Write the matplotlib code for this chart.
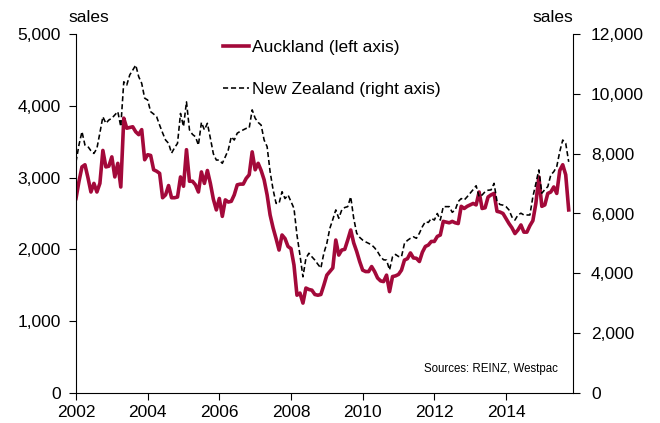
import matplotlib
matplotlib.use("Agg")
import matplotlib.pyplot as plt
from matplotlib.ticker import FuncFormatter, MultipleLocator
import numpy as np

plt.rcParams['font.family'] = ['Liberation Sans', 'DejaVu Sans']

start_year = 2002
auckland = [
    2710, 2950, 3150, 3180, 3000, 2800, 2920, 2800, 2920, 3380, 3150, 3160,
    3290, 3010, 3200, 2870, 3830, 3690, 3700, 3710, 3640, 3600, 3670, 3250,
    3320, 3310, 3110, 3090, 3060, 2720, 2760, 2890, 2720, 2720, 2730, 3010,
    2880, 3390, 2950, 2950, 2900, 2800, 3080, 2920, 3100, 2920, 2700, 2550,
    2710, 2460, 2690, 2660, 2670, 2760, 2900, 2910, 2910, 2990, 3040, 3360,
    3110, 3200, 3100, 2970, 2760, 2480, 2300, 2150, 1990, 2200, 2150, 2040,
    2010, 1780, 1360, 1390, 1250, 1460, 1440, 1430, 1370, 1360, 1370, 1500,
    1640, 1690, 1740, 2130, 1920, 1990, 2000, 2130, 2270, 2090, 1970, 1830,
    1710, 1690, 1690, 1760, 1690, 1600, 1560, 1550, 1640, 1410, 1620, 1630,
    1650, 1710, 1850, 1870, 1950, 1880, 1875, 1830, 1960, 2040, 2060, 2110,
    2110, 2180, 2200, 2390, 2380, 2370, 2390, 2370, 2360, 2600, 2570, 2600,
    2620, 2640, 2620, 2800, 2570, 2580, 2730, 2760, 2780, 2530, 2520, 2500,
    2430, 2360, 2300, 2220, 2270, 2340, 2240, 2240, 2330, 2400, 2640, 3010,
    2600, 2620, 2780, 2800, 2870, 2780, 3100, 3180, 3040, 2550,
]
new_zealand = [
    7730, 8300, 8740, 8290, 8240, 8100, 8010, 8180, 8700, 9240, 9020, 9130,
    9190, 9300, 9410, 8910, 10410, 10300, 10640, 10800, 10970, 10580, 10360, 9860,
    9800, 9410, 9330, 9240, 8960, 8700, 8460, 8350, 8020, 8200, 8350, 9350,
    8910, 9740, 8800, 8650, 8570, 8290, 9050, 8800, 9020, 8520, 8000, 7790,
    7790, 7680, 7900, 8130, 8570, 8460, 8690, 8750, 8800, 8850, 8860, 9470,
    9190, 9050, 8960, 8460, 8240, 7400, 6800, 6340, 6340, 6730, 6500, 6620,
    6400, 6170, 5280, 4610, 3880, 4500, 4670, 4550, 4440, 4300, 4170, 4670,
    5000, 5500, 5800, 6120, 5840, 6120, 6200, 6230, 6560, 5840, 5340, 5200,
    5110, 5050, 5000, 4950, 4850, 4720, 4550, 4450, 4440, 4110, 4550, 4630,
    4560, 4550, 5000, 5100, 5170, 5220, 5170, 5340, 5560, 5725, 5700, 5840,
    5780, 6000, 5780, 6230, 6230, 6230, 6040, 6120, 6400, 6500, 6450, 6560,
    6680, 6800, 6930, 6560, 6620, 6730, 6780, 6790, 7010, 6400, 6300, 6280,
    6230, 6120, 5880, 5780, 5950, 6010, 5950, 5950, 5950, 6560, 7000, 7460,
    6680, 6800, 6900, 7290, 7400, 7570, 8070, 8460, 8350, 7730,
]
x_ticks = [2002, 2004, 2006, 2008, 2010, 2012, 2014]
legend_labels = ["Auckland (left axis)", "New Zealand (right axis)"]

dates = start_year + np.arange(len(auckland)) / 12.0

fig = plt.figure(figsize=(6.6, 4.23), dpi=100)
ax = fig.add_axes([76/660, 1 - 392.7/423, (573 - 76)/660, (392.7 - 34.3)/423])
ax2 = ax.twinx()

red = '#A3093A'
l1, = ax.plot(dates, auckland, color=red, lw=2.6, solid_joinstyle='round', zorder=2)
l2, = ax2.plot(dates, new_zealand, color='black', lw=1.15, dashes=(3.2, 1.8))

ax.set_xlim(2002, 2015.87)
ax.set_ylim(0, 5000)
ax2.set_ylim(0, 12000)
ax.set_xticks(x_ticks)
ax.yaxis.set_major_locator(MultipleLocator(1000))
ax2.yaxis.set_major_locator(MultipleLocator(2000))
fmt = FuncFormatter(lambda v, p: f"{int(v):,}")
ax.yaxis.set_major_formatter(fmt)
ax2.yaxis.set_major_formatter(fmt)

for a in (ax, ax2):
    a.spines['top'].set_visible(False)
    for s in a.spines.values():
        s.set_linewidth(0.8)
        s.set_color('black')
    a.tick_params(direction='out', length=5, width=0.8, labelsize=12.5, colors='black')
ax2.spines['left'].set_visible(False)
ax2.spines['bottom'].set_visible(False)
ax.spines['right'].set_visible(False)
ax.tick_params(axis='x', pad=4)
ax.tick_params(axis='y', pad=6)
ax2.tick_params(axis='y', pad=8)

fig.text(89/660, 1 - 18/423, "sales", fontsize=12.5, ha='center', va='center')
fig.text(553/660, 1 - 18/423, "sales", fontsize=12.5, ha='center', va='center')

ax.text(0.97, 0.05, "Sources: REINZ, Westpac", transform=ax.transAxes,
        fontsize=8.3, ha='right', va='bottom')

fig.legend([l1, l2], legend_labels, loc='upper left', frameon=False,
           bbox_to_anchor=(223/660, 1 - 40/423), fontsize=12.5,
           handlelength=1.5, handletextpad=0.15, labelspacing=1.55,
           borderaxespad=0, borderpad=0)

fig.savefig("out.png", dpi=100)
